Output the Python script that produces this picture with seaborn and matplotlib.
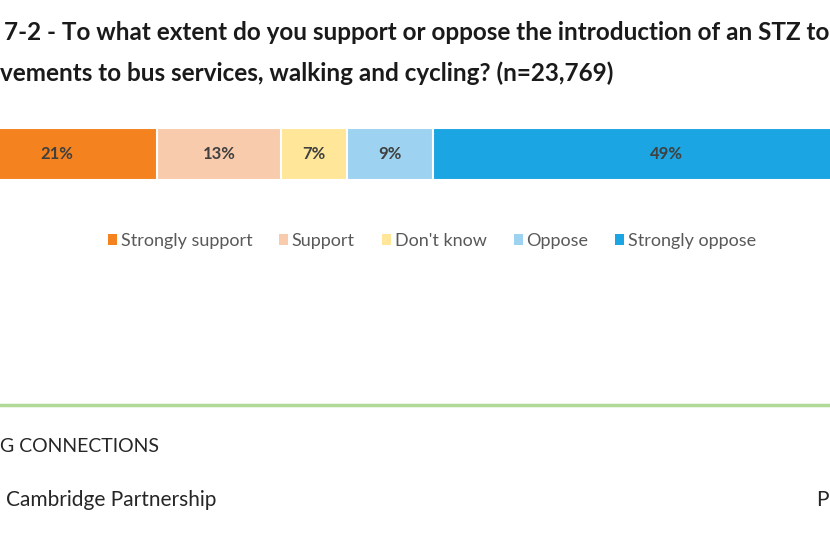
import matplotlib
matplotlib.use("Agg")
import matplotlib.pyplot as plt
import seaborn as sns
import pandas as pd
from matplotlib.patches import Patch
from matplotlib.lines import Line2D

# chart values
categories = ["Strongly support", "Support", "Don't know", "Oppose", "Strongly oppose"]
shares = [21, 13, 7, 9, 49]
colours = ["#F4831F", "#F8CBAD", "#FFE699", "#9DD3F0", "#1BA5E3"]

title_1 = "7-2 - To what extent do you support or oppose the introduction of an STZ to"
title_2 = "vements to bus services, walking and cycling? (n=23,769)"

sns.set_theme(style="white")
plt.rcParams["font.family"] = ["Lato", "DejaVu Sans"]

df = pd.DataFrame({"answer": categories, "share": shares, "colour": colours})
df["cum"] = df["share"].cumsum()
df["mid"] = df["cum"] - df["share"] / 2
df["row"] = "all"

fig = plt.figure(figsize=(8.3, 5.4), dpi=100)
ax = fig.add_axes([0, 1 - 180 / 540, 1, 52 / 540])

# stacked bar: draw cumulative bars from longest to shortest
for _, r in df[::-1].iterrows():
    sns.barplot(x=[r["cum"]], y=[r["row"]], color=r["colour"], orient="h",
                width=1.0, saturation=1, edgecolor="white", linewidth=1.5, ax=ax)

for _, r in df.iterrows():
    ax.text(r["mid"], 0, f"{r['share']}%", ha="center", va="center",
            fontsize=12, fontweight="bold", color="#404040")

ax.set_xlim(4.51, 91.72)
ax.set_ylim(0.5, -0.5)
ax.axis("off")

fig.text(4 / 830, 1 - 33 / 540, title_1, fontsize=17.5, fontweight="bold",
         color="#1a1a1a", va="center", ha="left")
fig.text(0, 1 - 73 / 540, title_2, fontsize=17.5, fontweight="bold",
         color="#1a1a1a", va="center", ha="left")

handles = [Patch(facecolor=c, edgecolor="none") for c in colours]
fig.legend(handles, categories, loc="center", bbox_to_anchor=(432 / 830, 1 - 241 / 540),
           ncol=5, frameon=False, fontsize=13, handlelength=0.5, handleheight=0.5,
           handletextpad=0.2, columnspacing=1.5, labelcolor="#595959")

fig.add_artist(Line2D([0, 1], [1 - 405 / 540] * 2, color="#B2DA97", lw=2.5,
                      transform=fig.transFigure))

fig.text(0, 1 - 446 / 540, "G CONNECTIONS", fontsize=14, color="#262626",
         va="center", ha="left")
fig.text(6 / 830, 1 - 500 / 540, "Cambridge Partnership", fontsize=15, color="#262626",
         va="center", ha="left")
fig.text(816 / 830, 1 - 500 / 540, "P", fontsize=15, color="#262626",
         va="center", ha="left")

fig.savefig("out.png", dpi=100)
